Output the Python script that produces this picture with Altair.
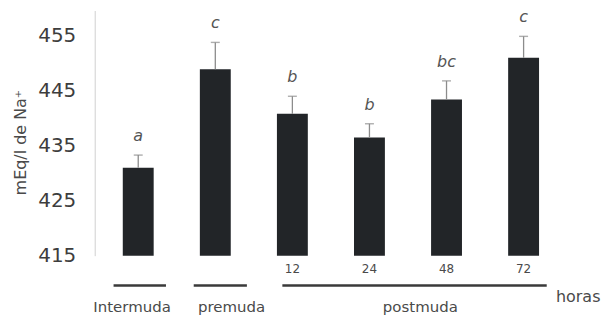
import altair as alt
import pandas as pd

# ---- data ----
categories = ["Intermuda", "premuda", "12", "24", "48", "72"]
sub_labels = ["", "", "12", "24", "48", "72"]
means = [431.0, 448.9, 440.8, 436.5, 443.4, 451.0]
errors = [2.3, 4.9, 3.2, 2.5, 3.4, 3.9]
letters = ["a", "c", "b", "b", "bc", "c"]
baseline = 415
y_ticks = [415, 425, 435, 445, 455]
y_title = "mEq/l de Na\u207a"

group_names = ["Intermuda", "premuda", "postmuda"]
group_start = [-0.32, 0.72, 1.87]   # span in category-index units
group_end = [0.36, 1.41, 5.30]
group_label_pos = [-0.08, 1.21, 3.66]
unit_label = "horas"
unit_label_pos = 5.42

FONT = "DejaVu Sans"
TXT = "#4a4a4a"

df = pd.DataFrame({
    "idx": list(range(len(categories))),
    "cat": categories,
    "sub": sub_labels,
    "mean": means,
    "err": errors,
    "letter": letters,
})
df["top"] = df["mean"] + df["err"]

groups = pd.DataFrame({
    "name": group_names,
    "start": group_start,
    "end": group_end,
    "lab": group_label_pos,
})
unit_df = pd.DataFrame({"t": [unit_label], "pos": [unit_label_pos]})

xscale = alt.Scale(domain=[-0.5, 5.5], nice=False, zero=False)
yscale = alt.Scale(domain=[415, 459.6], nice=False, zero=False)
yaxis = alt.Axis(
    values=y_ticks, grid=False, ticks=False, tickSize=0, labelPadding=19,
    labelFont=FONT, labelFontSize=20, labelColor="#3d3d3d",
    domainColor="#d0d0d0", domainWidth=1,
    titleFont=FONT, titleFontSize=16, titleFontWeight="normal", titleColor=TXT,
    titleX=-74, titleY=132, titleAlign="center", titleBaseline="middle",
)


def X(field):
    return alt.X(field, type="quantitative", scale=xscale, axis=None)


def Y(field):
    return alt.Y(field, type="quantitative", scale=yscale, axis=yaxis, title=y_title)


base = alt.Chart(df)

bars = base.mark_bar(size=31, color="#222528").encode(
    x=X("idx"), y=Y("mean"), y2=alt.datum(baseline)
)
err = base.mark_rule(color="#8c8c8c", strokeWidth=1.3).encode(
    x=X("idx"), y=Y("mean"), y2="top:Q"
)
cap = base.mark_tick(orient="horizontal", size=9, thickness=1.4, color="#8c8c8c").encode(
    x=X("idx"), y=Y("top")
)
lett = base.mark_text(
    dy=-19, font=FONT, fontSize=16, fontStyle="italic", color="#555555", baseline="middle"
).encode(x=X("idx"), y=Y("top"), text="letter:N")

subs = base.mark_text(font=FONT, fontSize=12, color=TXT, baseline="middle").encode(
    x=X("idx"), y=alt.value(259), text="sub:N"
)

glines = alt.Chart(groups).mark_rule(strokeWidth=2.5, color="#3a3a3a").encode(
    x=X("start"), x2="end:Q", y=alt.value(276)
)
glabels = alt.Chart(groups).mark_text(
    font=FONT, fontSize=15, color=TXT, baseline="middle"
).encode(x=X("lab"), y=alt.value(298), text="name:N")

unit = alt.Chart(unit_df).mark_text(
    font=FONT, fontSize=16, color=TXT, align="left", baseline="middle"
).encode(x=X("pos"), y=alt.value(287), text="t:N")

chart = alt.layer(bars, err, cap, lett, subs, glines, glabels, unit).properties(
    width=474,
    height=246,
    padding={"left": 87, "top": 2, "right": 35, "bottom": 62},
    autosize=alt.AutoSizeParams(type="none"),
).configure_view(stroke=None)

chart.save("out.html", embed_options={"renderer": "svg", "actions": False})
